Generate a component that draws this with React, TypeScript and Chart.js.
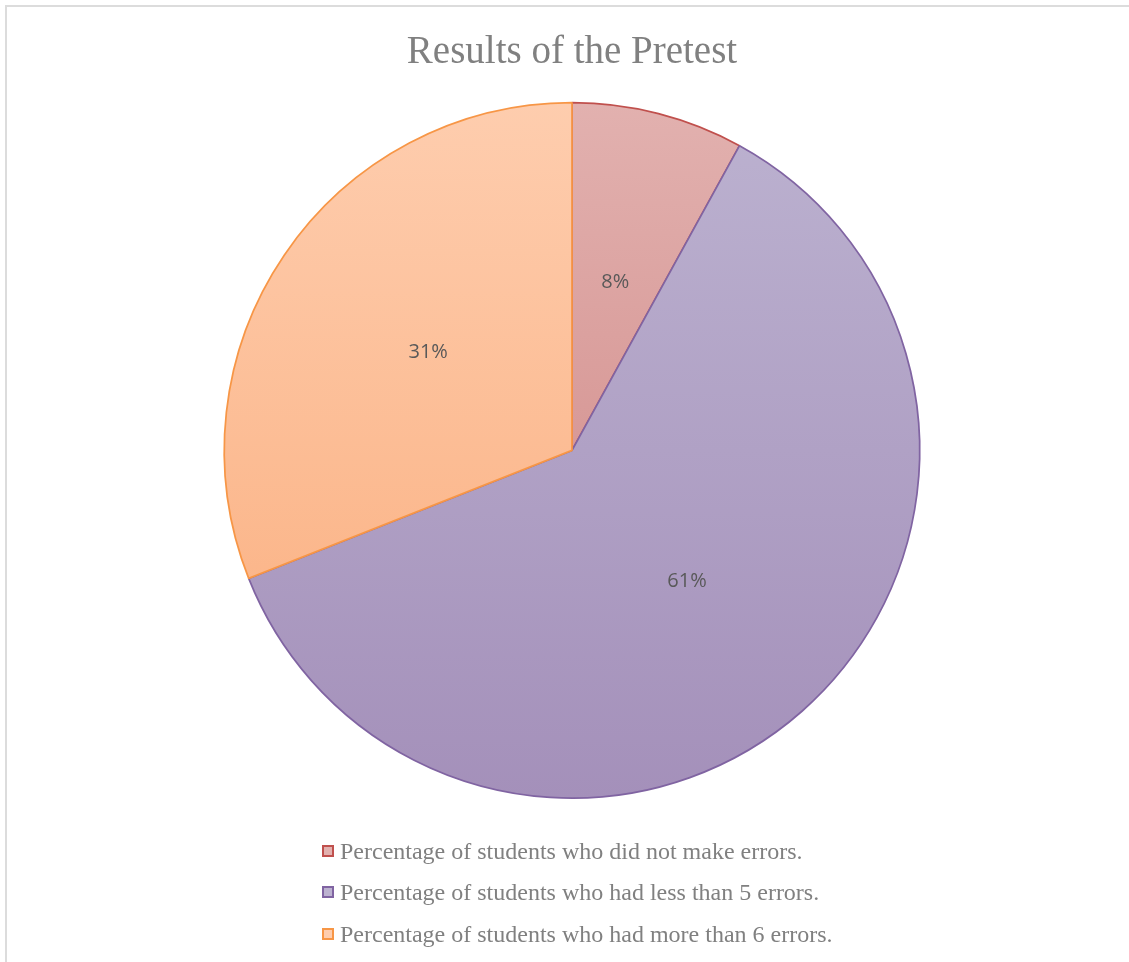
import React, { useEffect, useRef } from "react";
import { Chart, registerables } from "chart.js";

Chart.register(...registerables);

const TITLE = "Results of the Pretest";
const categories = [
  "Percentage of students who did not make errors.",
  "Percentage of students who had less than 5 errors.",
  "Percentage of students who had more than 6 errors.",
];
const values = [8, 61, 31];
const valueLabels = ["8%", "61%", "31%"];
const borderColors = ["#c0504d", "#8064a2", "#f79646"];
const gradientTop = ["#e2b1af", "#bcb2d0", "#fecdae"];
const gradientBottom = ["#cd817f", "#a490ba", "#faac7b"];

const labelPlugin = {
  id: "sliceLabels",
  afterDatasetsDraw(chart: any) {
    const ctx = chart.ctx;
    const meta = chart.getDatasetMeta(0);
    ctx.save();
    ctx.font = '20px "Open Sans", "Liberation Sans", sans-serif';
    ctx.fillStyle = "#595959";
    ctx.textAlign = "center";
    ctx.textBaseline = "middle";
    meta.data.forEach((arc: any, i: number) => {
      const p = arc.getProps(["x", "y", "startAngle", "endAngle", "outerRadius"], true);
      const mid = (p.startAngle + p.endAngle) / 2;
      const r = p.outerRadius * 0.5;
      ctx.fillText(valueLabels[i], p.x + Math.cos(mid) * r, p.y + Math.sin(mid) * r);
    });
    ctx.restore();
  },
};

const legendPlugin = {
  id: "customLegend",
  afterDraw(chart: any) {
    const ctx = chart.ctx;
    ctx.save();
    ctx.font = '24px "Liberation Serif", "Times New Roman", serif';
    ctx.textBaseline = "middle";
    ctx.textAlign = "left";
    const x0 = 322;
    const ys = [851, 892, 934];
    (chart.data.labels as string[]).forEach((lab, i) => {
      const y = ys[i];
      ctx.fillStyle = gradientTop[i];
      ctx.fillRect(x0 + 1, y - 5, 10, 10);
      ctx.strokeStyle = borderColors[i];
      ctx.lineWidth = 2;
      ctx.strokeRect(x0 + 1, y - 5, 10, 10);
      ctx.fillStyle = "#808080";
      ctx.fillText(lab, x0 + 18, y + 2);
    });
    ctx.restore();
  },
};

export default function App() {
  const ref = useRef<HTMLCanvasElement>(null);
  useEffect(() => {
    if (!ref.current) return;
    const makeGrad = (ctx: any, i: number) => {
      const chart = ctx.chart;
      const area = chart.chartArea;
      if (!area) return gradientTop[i];
      const g = chart.ctx.createLinearGradient(0, area.top, 0, area.bottom);
      g.addColorStop(0, gradientTop[i]);
      g.addColorStop(1, gradientBottom[i]);
      return g;
    };
    const chart = new Chart(ref.current, {
      type: "pie",
      data: {
        labels: categories,
        datasets: [
          {
            data: values,
            backgroundColor: (c: any) => makeGrad(c, c.dataIndex),
            borderColor: borderColors,
            borderWidth: 1.75,
            borderAlign: "center",
          },
        ],
      },
      options: {
        responsive: false,
        animation: false,
        layout: { padding: { top: 0, bottom: 163, left: 223, right: 208 } },
        plugins: {
          legend: { display: false },
          tooltip: { enabled: false },
          title: {
            display: true,
            text: TITLE,
            color: "#808080",
            font: { family: '"Liberation Serif", "Times New Roman", serif', size: 39, weight: "normal" },
            padding: { top: 29, bottom: 26 },
          },
        },
      },
      plugins: [labelPlugin, legendPlugin],
    } as any);
    return () => chart.destroy();
  }, []);
  return (
    <div style={{ position: "fixed", left: 0, top: 0, width: 1129, height: 962, background: "#fff", overflow: "hidden" }}>
      <div
        style={{
          position: "absolute",
          left: 5,
          top: 5,
          width: 1200,
          height: 1100,
          borderLeft: "2px solid #dcdcdc",
          borderTop: "2px solid #dcdcdc",
        }}
      />
      <canvas ref={ref} width={1129} height={962} style={{ position: "absolute", left: 0, top: 0 }} />
    </div>
  );
}
